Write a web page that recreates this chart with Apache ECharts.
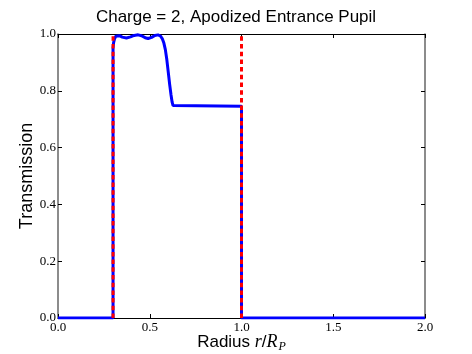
<!DOCTYPE html>
<html>
<head>
<meta charset="utf-8">
<script src="https://cdn.jsdelivr.net/npm/echarts@6/dist/echarts.min.js"></script>
<style>
  html, body { margin: 0; padding: 0; background: #fff; }
  #chart { width: 472px; height: 354px; }
</style>
</head>
<body>
<div id="chart"></div>
<script>
// apodized pupil profile
const radius = [0, 0.3, 0.3, 0.303, 0.308, 0.315, 0.324, 0.335, 0.35, 0.373, 0.395, 0.415, 0.437,
  0.455, 0.475, 0.491, 0.51, 0.528, 0.545, 0.558, 0.568, 0.577, 0.585, 0.593, 0.601, 0.609,
  0.616, 0.622, 0.627, 0.633, 1.0, 1.0, 2.0];
const transmission = [0, 0, 0.95, 0.97, 0.983, 0.992, 0.996, 0.994, 0.989, 0.986, 0.99, 0.995, 0.997,
  0.994, 0.987, 0.984, 0.988, 0.995, 0.997, 0.993, 0.984, 0.968, 0.945, 0.91, 0.865, 0.82,
  0.785, 0.76, 0.748, 0.746, 0.746, 0, 0];
// pupil edges (red dashed)
const pupilEdges = [0.3, 1.0];
const xTicks = [0, 0.5, 1.0, 1.5, 2.0];
const yTicks = [0, 0.2, 0.4, 0.6, 0.8, 1.0];

const chart = echarts.init(document.getElementById("chart"));

const serif = "Liberation Serif";
const sans = "Liberation Sans";

const tickStyle = { show: true, inside: true, length: 4, lineStyle: { color: "#000", width: 1 } };
// horizontal spines look black, vertical ones greyer
const hLine = { show: true, onZero: false, lineStyle: { color: "#000", width: 1 } };
const vLine = { show: true, onZero: false, lineStyle: { color: "#666", width: 1.5 } };

const blueData = radius.map((r, i) => [r, transmission[i]]);

const redSeries = pupilEdges.map((x) => ({
  type: "line",
  data: [[x, 0], [x, 1]],
  symbol: "none",
  z: 5,
  lineStyle: { color: "#ff0000", width: 3, type: [4.5, 3.2] }
}));

const option = {
  animation: false,
  title: {
    text: "Charge = 2, Apodized Entrance Pupil",
    left: "center",
    top: 4,
    textStyle: { fontFamily: sans, fontSize: 17, fontWeight: "normal", color: "#000" }
  },
  grid: { left: 58, right: 47, top: 34, bottom: 36, outerBoundsMode: "none" },
  xAxis: [
    {
      type: "value",
      min: xTicks[0],
      max: xTicks[xTicks.length - 1],
      interval: 0.5,
      axisLine: hLine,
      axisTick: tickStyle,
      splitLine: { show: false },
      axisLabel: {
        fontFamily: serif, fontSize: 13, color: "#000", margin: 3,
        formatter: (v) => v.toFixed(1)
      },
      name: "{a|Radius }{b|r}{a|/}{b|R}{c|P}",
      nameLocation: "middle",
      nameMoveOverlap: false,
      nameGap: 13,
      nameTextStyle: {
        rich: {
          a: { fontFamily: sans, fontSize: 17, color: "#000" },
          b: { fontFamily: serif, fontStyle: "italic", fontSize: 18, color: "#000" },
          c: { fontFamily: serif, fontStyle: "italic", fontSize: 12, color: "#000", padding: [10, 0, 0, 1] }
        }
      }
    },
    {
      type: "value",
      position: "top",
      min: xTicks[0],
      max: xTicks[xTicks.length - 1],
      interval: 0.5,
      axisLine: hLine,
      axisTick: tickStyle,
      axisLabel: { show: false },
      splitLine: { show: false }
    }
  ],
  yAxis: [
    {
      type: "value",
      min: yTicks[0],
      max: yTicks[yTicks.length - 1],
      interval: 0.2,
      axisLine: vLine,
      axisTick: tickStyle,
      splitLine: { show: false },
      axisLabel: {
        fontFamily: serif, fontSize: 13, color: "#000", margin: 2,
        formatter: (v) => v.toFixed(1)
      },
      name: "Transmission",
      nameLocation: "middle",
      nameMoveOverlap: false,
      nameGap: 22,
      nameTextStyle: { fontFamily: sans, fontSize: 18, color: "#000" }
    },
    {
      type: "value",
      position: "right",
      min: yTicks[0],
      max: yTicks[yTicks.length - 1],
      interval: 0.2,
      axisLine: vLine,
      axisTick: tickStyle,
      axisLabel: { show: false },
      splitLine: { show: false }
    }
  ],
  series: [
    {
      type: "line",
      data: blueData,
      symbol: "none",
      z: 3,
      lineStyle: { color: "#0000ff", width: 3 }
    },
    ...redSeries
  ]
};

chart.setOption(option);
</script>
</body>
</html>
